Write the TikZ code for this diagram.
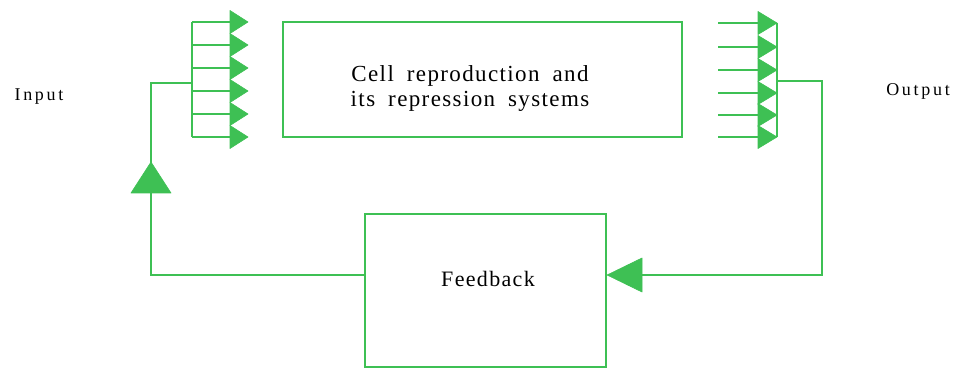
\documentclass[tikz,border=0pt]{standalone}
\usepackage{fontspec}
\setmainfont{Liberation Serif}
\newfontfamily\boxfont[LetterSpace=6]{Liberation Serif}
\newfontfamily\sidefont[LetterSpace=15]{Liberation Serif}
\definecolor{gr}{RGB}{62,192,84}
\newcommand{\wsp}{\hspace{13pt}}
\begin{document}
\begin{tikzpicture}[x=1pt,y=-1pt,
  wire/.style={draw=gr,line width=2.2pt},
  boxx/.style={draw=gr,line width=2.2pt,inner sep=0pt},
  tri/.style={fill=gr,draw=gr,line width=0.6pt,line join=round},
  boxtext/.style={font=\fontsize{23}{25.5}\boxfont,align=center,inner sep=0pt,anchor=base},
  fbtextstyle/.style={font=\fontsize{22}{25.5}\boxfont,inner sep=0pt,anchor=base},
  sidetext/.style={font=\fontsize{18}{20}\sidefont,inner sep=0pt,anchor=base}]
\useasboundingbox (0,0) rectangle (968,371);
% main box
\node[boxx,minimum width=399pt,minimum height=115pt] (cell) at (482.5,79.5) {};
\node[boxtext] (celltxt) at (470,107) {Cell\wsp reproduction\wsp and\\its\wsp repression\wsp systems};
% feedback box
\node[boxx,minimum width=241pt,minimum height=153pt] (fb) at (485.5,290.5) {};
\node[fbtextstyle] (fbtxt) at (488,286) {Feedback};
% side labels
\node[sidetext] (inp) at (39,101) {Input};
\node[sidetext] (outp) at (918,96) {Output};
% left bundle
\coordinate (lt) at (192,22);
\coordinate (lb) at (192,137);
\coordinate (lin) at (192,83);
\draw[wire] (lt) -- (lb);
\foreach \y [count=\i] in {22,45,68,91,114,137}{
  \coordinate (lh\i) at (192,\y);
  \coordinate (lbase\i) at (230,\y);
  \draw[wire] (lh\i) -- (lbase\i);
  \fill[tri] (230,\y-11.5) -- (248,\y) -- (230,\y+11.5) -- cycle;
}
% right bundle
\coordinate (rt) at (777,23);
\coordinate (rb) at (777,137);
\coordinate (rout) at (777,81);
\foreach \y [count=\i] in {23,47,70,93,115,137}{
  \coordinate (rh\i) at (718,\y);
  \coordinate (rbase\i) at (758,\y);
  \draw[wire] (rh\i) -- (rbase\i);
  \fill[tri] (758,\y-11.5) -- (777,\y) -- (758,\y+11.5) -- cycle;
}
\draw[wire] (rt) -- (rb);
% feedback loop: output -> feedback
\coordinate (rc1) at (822,81);
\coordinate (rc2) at (822,275);
\coordinate (fbin) at (fb.east |- rc2);
\draw[wire] (rout) -- (rc1) -- (rc2) -- (642,275);
\fill[tri] (fbin) -- (642,258) -- (642,292) -- cycle;
% feedback -> input
\coordinate (fbout) at (fb.west |- rc2);
\coordinate (lc1) at (151,275);
\coordinate (lc2) at (151,83);
\coordinate (atip) at (151,162);
\draw[wire] (fbout) -- (lc1) -- (lc2) -- (lin);
\fill[tri] (atip) -- (131,193) -- (171,193) -- cycle;
\end{tikzpicture}
\end{document}
